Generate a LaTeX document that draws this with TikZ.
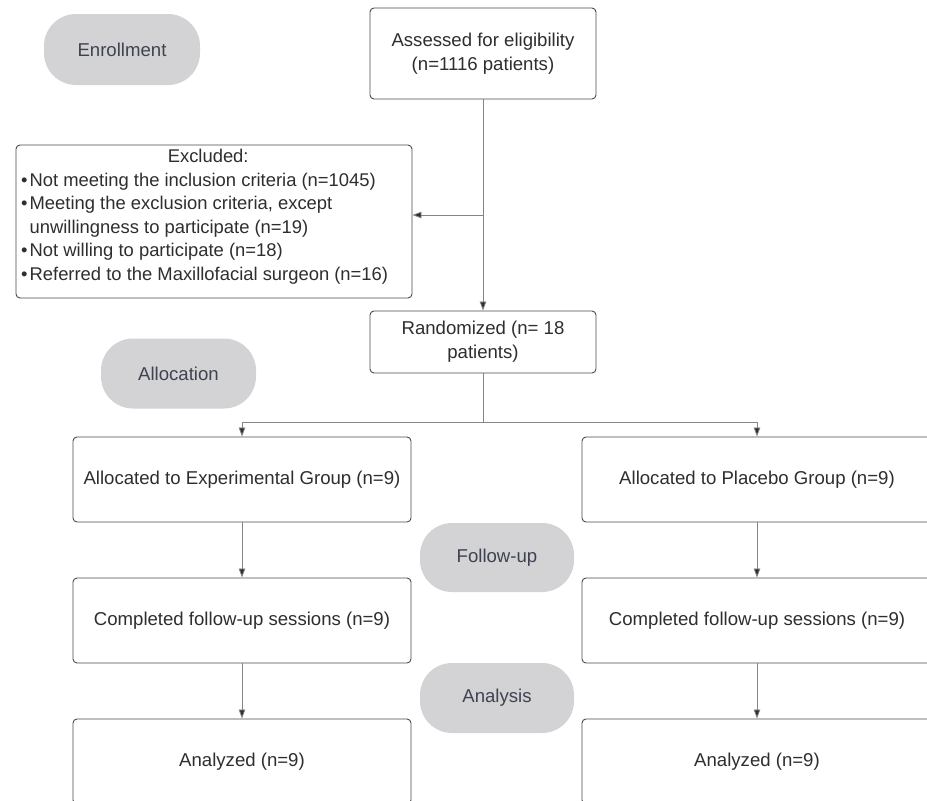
\documentclass[tikz,border=0pt]{standalone}
\usepackage{fontspec}
\setmainfont{Liberation Sans}
\usetikzlibrary{arrows.meta, positioning, calc}
\definecolor{pillgray}{HTML}{D3D3D5}
\definecolor{boxline}{HTML}{4A4A4A}
\definecolor{linkgray}{HTML}{858585}
\definecolor{txtdark}{HTML}{2E2E2E}
\definecolor{pilltxt}{HTML}{3E4350}

\begin{document}
\begin{tikzpicture}[x=1pt, y=-1pt,
  font=\fontsize{18.6}{24}\selectfont,
  stagebox/.style={draw=boxline, line width=0.9pt, rounded corners=4pt,
    fill=white, text=txtdark, align=center, inner sep=0pt},
  phasepill/.style={fill=pillgray, rounded corners=32pt, text=pilltxt,
    minimum width=155pt, minimum height=70pt, inner sep=0pt},
  link/.style={draw=linkgray, line width=0.8pt},
  arr/.style={link, -{Triangle[length=9pt, width=6.5pt, fill=txtdark]}}]
  \useasboundingbox (0,0) rectangle (927,801);
  % phase labels
  \node[phasepill, minimum width=156pt, minimum height=71pt] (enroll) at (122,49.5) {Enrollment};
  \node[phasepill] (alloc) at (178.5,373.5) {Allocation};
  \node[phasepill, minimum width=154pt, minimum height=69pt] (follow) at (497,557.5) {Follow-up};
  \node[phasepill, minimum width=154pt] (analys) at (497,698) {Analysis};
  % enrollment
  \node[stagebox, minimum width=226pt, minimum height=91pt] (assess) at (483,53.5)
    {Assessed for eligibility\\(n=1116 patients)};
  \node[stagebox, minimum width=396pt, minimum height=153pt] (excl) at (214,221.5) {};
  \node[anchor=north west, inner sep=0pt, align=left, text=txtdark,
    font=\fontsize{18.4}{23.5}\selectfont] (excltxt) at (21,149)
    {\makebox[374pt]{Excluded:}\\
     \textbullet\hspace{2pt}Not meeting the inclusion criteria (n=1045)\\
     \textbullet\hspace{2pt}Meeting the exclusion criteria, except\\
     \phantom{\textbullet}\hspace{2pt}unwillingness to participate (n=19)\\
     \textbullet\hspace{2pt}Not willing to participate (n=18)\\
     \textbullet\hspace{2pt}Referred to the Maxillofacial surgeon (n=16)};
  \node[stagebox, minimum width=226pt, minimum height=62pt] (rand) at (483,342)
    {Randomized (n= 18\\patients)};
  % two arms
  \foreach \arm/\cx/\bw/\grp in {exp/242/338/Experimental, plc/757/350/Placebo} {
    \node[stagebox, minimum width=\bw pt, minimum height=85pt] (\arm alloc) at (\cx,479.5)
      {Allocated to \grp{} Group (n=9)};
    \node[stagebox, minimum width=\bw pt, minimum height=85pt] (\arm comp) at (\cx,620.5)
      {Completed follow-up sessions (n=9)};
    \node[stagebox, minimum width=\bw pt, minimum height=85pt] (\arm ana) at (\cx,761.5)
      {Analyzed (n=9)};
    \draw[arr] (\arm alloc.south) -- (\arm comp.north);
    \draw[arr] (\arm comp.south) -- (\arm ana.north);
  }
  % connectors
  \coordinate (split) at (483,215);
  \coordinate (fork) at (483,422);
  \draw[arr] (assess.south) -- (rand.north);
  \draw[arr] (split) -- (split -| excl.east);
  \draw[link] (rand.south) -- (fork);
  \draw[arr] (fork) -| (expalloc.north);
  \draw[arr] (fork) -| (plcalloc.north);
\end{tikzpicture}
\end{document}
